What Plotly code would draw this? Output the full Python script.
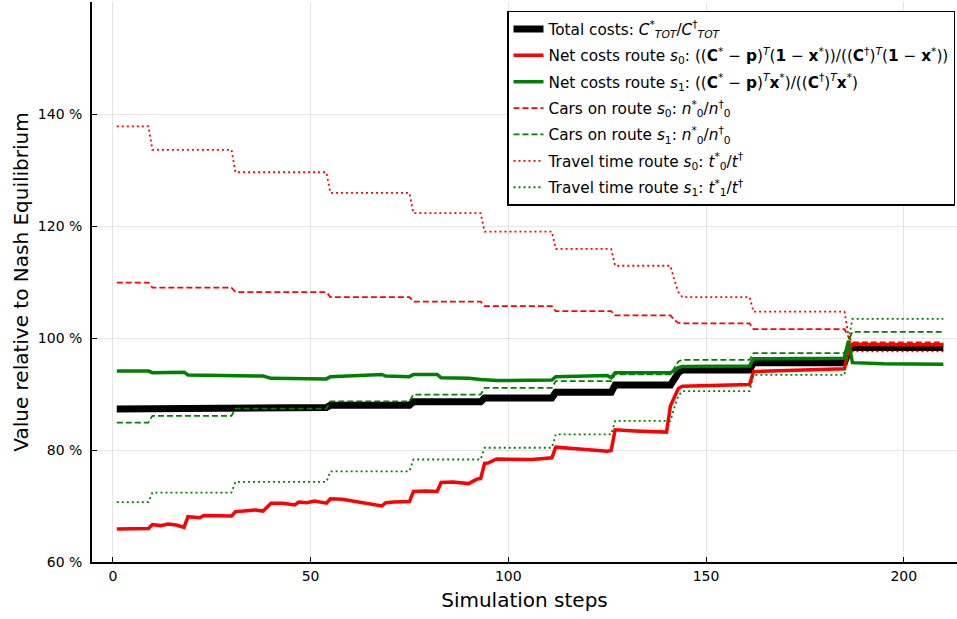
import plotly.graph_objects as go

# ---------------- data (values in %) ----------------
# Total costs C*_TOT / C†_TOT
total_x = [1, 30, 31, 54, 55, 75, 76, 93, 94, 111, 112, 126, 127, 141, 142, 143, 144, 161, 162, 185, 186, 187, 210]
total_y = [87.3, 87.3, 87.6, 87.6, 88.0, 88.0, 88.6, 88.6, 89.3, 89.3, 90.3, 90.3, 91.6, 91.6, 92.7, 93.8, 94.3, 94.3, 95.6, 95.6, 97.6, 98.3, 98.3]

# Net costs route s0
net0_x = [1, 9, 10, 12, 14, 16, 18, 19, 22, 23, 30, 31, 33, 36, 38, 40, 43, 46, 47, 49, 51, 54, 55, 58,
          68, 69, 71, 75, 76, 79, 82, 83, 86, 90, 92, 93, 94, 95, 97, 106, 111, 112, 118, 125, 126,
          127, 132, 140, 141, 142, 143, 144, 161, 162, 185, 186, 187, 200, 210]
net0_y = [65.9, 66.0, 66.7, 66.5, 66.8, 66.6, 66.2, 68.1, 67.9, 68.3, 68.2, 69.0, 69.1, 69.3, 69.1, 70.5, 70.5, 70.2, 70.7, 70.6, 70.9, 70.5, 71.3, 71.2,
          70.0, 70.6, 70.7, 70.8, 72.6, 72.7, 72.6, 74.2, 74.3, 74.0, 74.8, 74.9, 77.6, 77.7, 78.4, 78.3, 78.6, 80.5, 80.2, 79.8, 79.9,
          83.6, 83.4, 83.2, 87.9, 89.5, 91.0, 91.4, 91.7, 94.0, 94.5, 98.0, 98.9, 98.8, 98.8]

# Net costs route s1
net1_x = [1, 9, 10, 18, 19, 38, 40, 46, 51, 54, 55, 68, 69, 75, 76, 82, 83, 90, 93, 97, 111, 112, 125, 126,
          127, 141, 142, 143, 144, 161, 162, 185, 186, 187, 195, 205, 210]
net1_y = [94.1, 94.1, 93.8, 93.9, 93.4, 93.2, 92.8, 92.7, 92.6, 92.7, 93.1, 93.5, 93.2, 93.1, 93.5, 93.5, 92.9, 92.8, 92.6, 92.4, 92.5, 93.1, 93.3, 92.9,
          93.8, 93.8, 94.2, 94.7, 94.9, 95.0, 96.3, 96.4, 99.5, 95.6, 95.4, 95.4, 95.3]

# Cars on route s0
cars0_x = [1, 9, 10, 30, 31, 54, 55, 75, 76, 93, 94, 111, 112, 126, 127, 141, 142, 143, 144, 161, 162, 185, 186, 187, 210]
cars0_y = [109.9, 109.9, 109.0, 109.0, 108.2, 108.2, 107.3, 107.3, 106.5, 106.5, 105.7, 105.7, 104.8, 104.8, 104.05, 104.05, 103.2, 102.7, 102.6, 102.6, 101.6, 101.6, 100.2, 99.2, 99.2]

# Cars on route s1
cars1_x = [1, 9, 10, 30, 31, 54, 55, 75, 76, 93, 94, 111, 112, 126, 127, 141, 142, 143, 144, 161, 162, 185, 186, 187, 210]
cars1_y = [84.9, 84.9, 86.1, 86.1, 87.4, 87.4, 88.7, 88.7, 89.9, 89.9, 91.1, 91.1, 92.3, 92.3, 93.5, 93.5, 94.7, 95.8, 96.1, 96.1, 97.3, 97.3, 99.4, 101.1, 101.1]

# Travel time route s0
tt0_x = [1, 9, 10, 30, 31, 54, 55, 75, 76, 93, 94, 111, 112, 126, 127, 141, 142, 143, 144, 161, 162, 185, 186, 187, 210]
tt0_y = [137.8, 137.8, 133.6, 133.6, 129.6, 129.6, 125.9, 125.9, 122.3, 122.3, 119.0, 119.0, 115.9, 115.9, 112.9, 112.9, 110.3, 108.2, 107.3, 107.3, 104.7, 104.7, 100.5, 97.6, 97.6]

# Travel time route s1
tt1_x = [1, 9, 10, 30, 31, 54, 55, 75, 76, 93, 94, 111, 112, 126, 127, 141, 142, 143, 144, 161, 162, 185, 186, 187, 210]
tt1_y = [70.7, 70.7, 72.4, 72.4, 74.3, 74.3, 76.2, 76.2, 78.3, 78.3, 80.4, 80.4, 82.8, 82.8, 85.2, 85.2, 87.6, 89.7, 90.5, 90.5, 93.4, 93.4, 99.5, 103.4, 103.4]

y_ticks = [60, 80, 100, 120, 140]
y_tick_labels = ["60 %", "80 %", "100 %", "120 %", "140 %"]
x_ticks = [0, 50, 100, 150, 200]

names = [
    "Total costs: <i>C</i><sup>*</sup><sub><i>TOT</i></sub>/<i>C</i><sup>†</sup><sub><i>TOT</i></sub>",
    "Net costs route <i>s</i><sub>0</sub>: ((<b>C</b><sup>*</sup> − <b>p</b>)<sup><i>T</i></sup>(<b>1</b> − <b>x</b><sup>*</sup>))/((<b>C</b><sup>†</sup>)<sup><i>T</i></sup>(<b>1</b> − <b>x</b><sup>*</sup>))",
    "Net costs route <i>s</i><sub>1</sub>: ((<b>C</b><sup>*</sup> − <b>p</b>)<sup><i>T</i></sup><b>x</b><sup>*</sup>)/((<b>C</b><sup>†</sup>)<sup><i>T</i></sup><b>x</b><sup>*</sup>)",
    "Cars on route <i>s</i><sub>0</sub>: <i>n</i><sup>*</sup><sub>0</sub>/<i>n</i><sup>†</sup><sub>0</sub>",
    "Cars on route <i>s</i><sub>1</sub>: <i>n</i><sup>*</sup><sub>0</sub>/<i>n</i><sup>†</sup><sub>0</sub>",
    "Travel time route <i>s</i><sub>0</sub>: <i>t</i><sup>*</sup><sub>0</sub>/<i>t</i><sup>†</sup>",
    "Travel time route <i>s</i><sub>1</sub>: <i>t</i><sup>*</sup><sub>1</sub>/<i>t</i><sup>†</sup>",
]

RED = "#ff0000"
GREEN = "#008000"
series = [
    (total_x, total_y, "black", 7, "solid"),
    (net0_x, net0_y, RED, 3.5, "solid"),
    (net1_x, net1_y, GREEN, 3.5, "solid"),
    (cars0_x, cars0_y, RED, 1.8, "6px,3px"),
    (cars1_x, cars1_y, GREEN, 1.8, "6px,3px"),
    (tt0_x, tt0_y, RED, 1.8, "2px,3px"),
    (tt1_x, tt1_y, GREEN, 1.8, "2px,3px"),
]

fig = go.Figure()
for i, (xs, ys, col, w, dash) in enumerate(series):
    fig.add_trace(go.Scatter(
        x=xs, y=ys, mode="lines", name=names[i], legendgroup=f"g{i}",
        line=dict(color=col, width=w, dash=dash, shape="linear"),
    ))

FONT = "DejaVu Sans"
fig.update_layout(
    width=957, height=619,
    margin=dict(l=92, r=0, t=2, b=57),
    paper_bgcolor="white", plot_bgcolor="white",
    font=dict(family=FONT, color="black", size=14),
    showlegend=True,
    legend=dict(
        x=0.9977, xanchor="right", y=0.984, yanchor="top",
        bgcolor="white", bordercolor="black", borderwidth=1.5,
        font=dict(family=FONT, size=15.3, color="black"),
        tracegroupgap=3.5,
    ),
    xaxis=dict(
        range=[-5.27, 213.45], tickvals=x_ticks, ticks="inside", ticklen=5,
        tickcolor="black", tickwidth=1.2,
        showline=True, linecolor="black", linewidth=1.8,
        showgrid=True, gridcolor="rgba(0,0,0,0.1)", gridwidth=1,
        zeroline=False, mirror=False,
        tickfont=dict(family=FONT, size=14),
        title=dict(text="Simulation steps", font=dict(family=FONT, size=20), standoff=10),
    ),
    yaxis=dict(
        range=[60, 160], tickvals=y_ticks, ticktext=y_tick_labels, ticks="inside", ticklen=5,
        tickcolor="black", tickwidth=1.2,
        showline=True, linecolor="black", linewidth=1.8,
        showgrid=True, gridcolor="rgba(0,0,0,0.1)", gridwidth=1,
        zeroline=False,
        tickfont=dict(family=FONT, size=14),
        ticklabelstandoff=5,
        title=dict(text="Value relative to Nash Equilibrium", font=dict(family=FONT, size=20), standoff=4),
    ),
)

fig.write_html("out.html")
